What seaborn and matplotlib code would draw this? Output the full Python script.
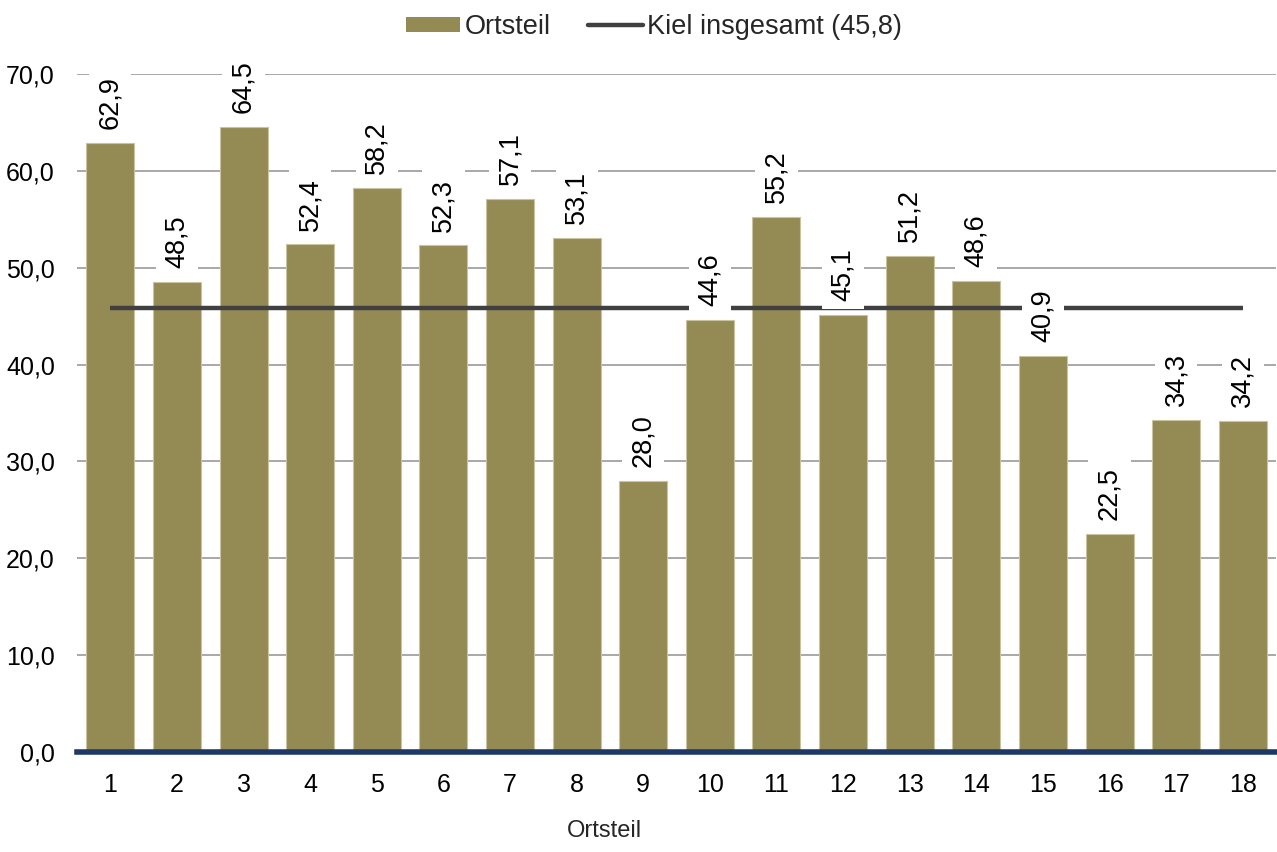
import matplotlib.pyplot as plt
import numpy as np
import pandas as pd
import seaborn as sns
from matplotlib.lines import Line2D
from matplotlib.patches import Patch

# ---------------------------------------------------------------------------
# Data
# ---------------------------------------------------------------------------
ortsteile = [str(i) for i in range(1, 19)]
werte = [62.9, 48.5, 64.5, 52.4, 58.2, 52.3, 57.1, 53.1, 28.0,
         44.6, 55.2, 45.1, 51.2, 48.6, 40.9, 22.5, 34.3, 34.2]
kiel_gesamt = 45.8
y_ticks = [0, 10, 20, 30, 40, 50, 60, 70]

BAR_COLOR = "#948A54"
LINE_COLOR = "#404040"
AXIS_COLOR = "#1F3864"

sns.set_style("white")
plt.rcParams["font.family"] = ["Liberation Sans", "DejaVu Sans"]


def de(v):
    return f"{v:.1f}".replace(".", ",")


df = pd.DataFrame({"Ortsteil": ortsteile, "Wert": werte})

fig = plt.figure(figsize=(12.77, 8.52), dpi=100)
ax = fig.add_axes([0.0603, 0.1174, 0.9390, 0.7957])

sns.barplot(data=df, x="Ortsteil", y="Wert", color=BAR_COLOR, width=0.72,
            saturation=1, edgecolor="#C9C3A0", linewidth=0.8, ax=ax, zorder=2)

# Kiel insgesamt line across all bars
ax.hlines(kiel_gesamt, 0, len(ortsteile) - 1, color=LINE_COLOR, linewidth=3.2,
          zorder=3)

# value labels
for i, v in enumerate(werte):
    ax.annotate(de(v), xy=(i, v), xytext=(0, 10), textcoords="offset points",
                rotation=90, ha="center", va="bottom", fontsize=19.5,
                color="black", zorder=5,
                bbox=dict(boxstyle="square,pad=0.3", fc="white", ec="none"))

ax.set_ylim(0, 70)
ax.set_xlim(-0.5, len(ortsteile) - 0.5)
ax.set_yticks(y_ticks)
ax.set_yticklabels([de(t) for t in y_ticks])
ax.yaxis.grid(True, color="#999999", linewidth=1.2, zorder=0)
ax.set_axisbelow(True)
ax.tick_params(axis="both", length=0, labelsize=18, colors="black")
ax.tick_params(axis="y", pad=16)
ax.tick_params(axis="x", pad=15)
ax.set_xlabel("")
ax.set_ylabel("")

for s in ["top", "right", "left"]:
    ax.spines[s].set_visible(False)
ax.spines["bottom"].set_color(AXIS_COLOR)
ax.spines["bottom"].set_linewidth(4)
ax.spines["bottom"].set_zorder(4)

fig.text(0.473, 0.012, "Ortsteil", ha="center", va="bottom", fontsize=17)

handles = [Patch(facecolor=BAR_COLOR, edgecolor="none"),
           Line2D([0], [0], color=LINE_COLOR, linewidth=3.2)]
labels = ["Ortsteil", f"Kiel insgesamt ({de(kiel_gesamt)})"]
fig.legend(handles, labels, loc="upper center", bbox_to_anchor=(0.512, 1.012),
           ncol=2, frameon=False, fontsize=19.5, handlelength=2.0,
           handletextpad=0.15, columnspacing=1.4, handleheight=0.5)

fig.savefig("out.png", dpi=100)
